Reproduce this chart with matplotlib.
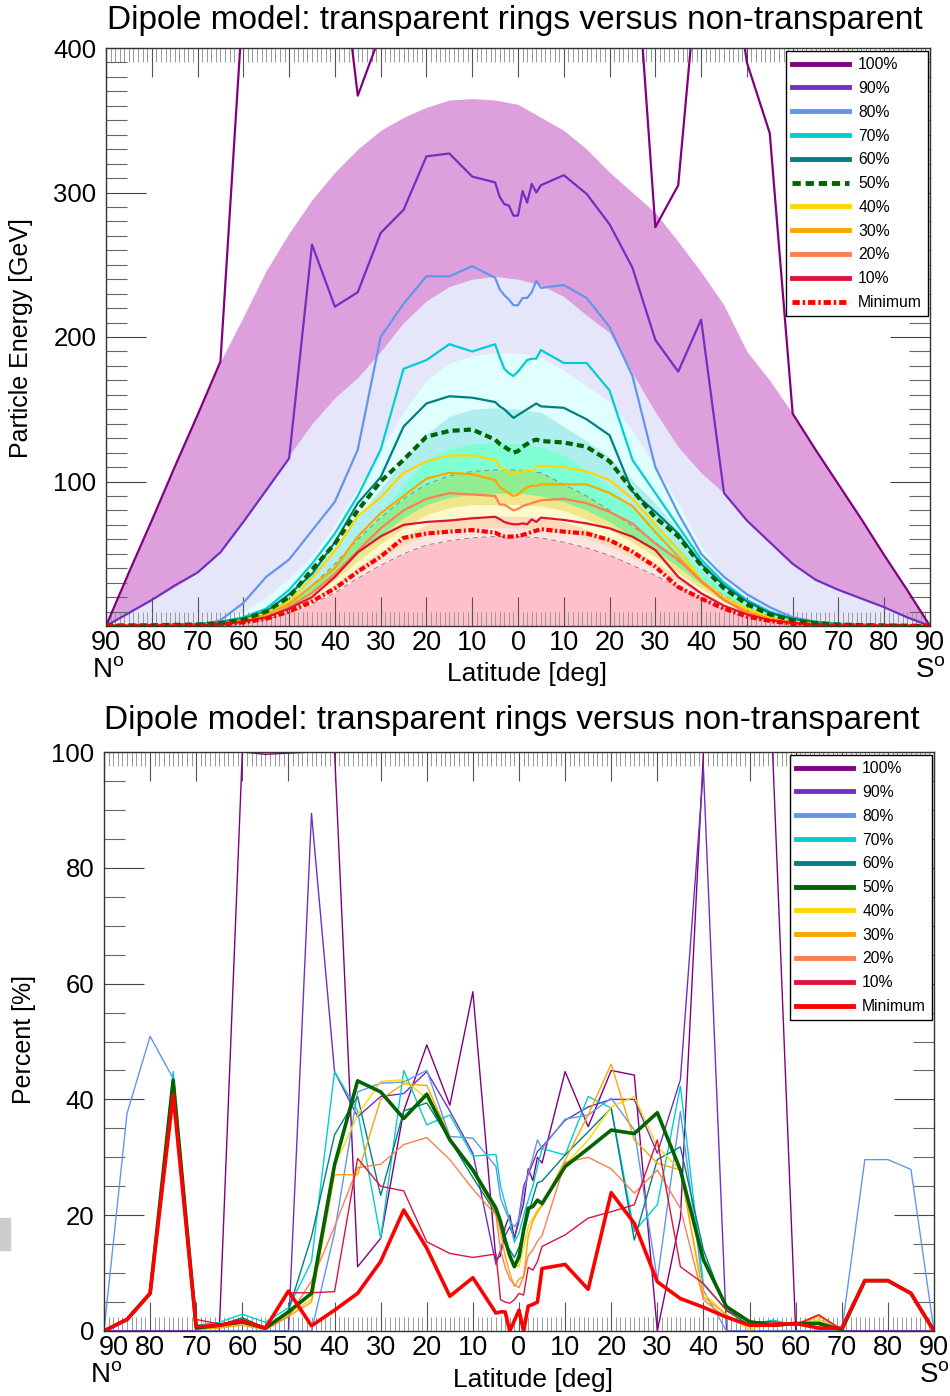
import matplotlib
matplotlib.use("Agg")
import matplotlib.pyplot as plt
from matplotlib.ticker import MultipleLocator, FixedLocator
from matplotlib.patches import Rectangle
from matplotlib.transforms import offset_copy

plt.rcParams['font.family'] = ['Liberation Sans', 'DejaVu Sans']
plt.rcParams['mathtext.fontset'] = 'custom'
plt.rcParams['mathtext.rm'] = 'Liberation Sans'

# latitude grid of the percentile curves (north negative)
lat = [-90, -85, -80, -75, -70, -65, -60, -55, -50, -45, -40, -35, -30, -25, -20, -15, -10,
       -5, -4, -3, -2, -1, 0, 1, 2, 3, 4, 5,
       10, 15, 20, 25, 30, 35, 40, 45, 50, 55, 60, 65, 70, 75, 80, 85, 90]
# coarser grid of the non-transparent bands
lat5 = list(range(-90, 91, 5))

labels = ['100%', '90%', '80%', '70%', '60%', '50%', '40%', '30%', '20%', '10%', 'Minimum']
colors = ['#800080', '#7030C0', '#6495ED', '#00CED1', '#008080', '#006400',
          '#FFD700', '#FFA500', '#FF7F50', '#DC143C', '#FF0000']

# particle energy [GeV], transparent rings
e100 = [0, 37, 73, 110, 146, 183, 435, 500, 500, 500, 500, 367, 410, 500, 500, 500, 500,
        500, 500, 500, 500, 500, 500, 500, 500, 500, 500, 500,
        500, 500, 500, 500, 276, 305, 480, 500, 390, 341, 147, 122, 98, 74, 49, 25, 0]
e90 = [0, 9, 18, 28, 37, 51, 72, 94, 116, 264, 221, 231, 272, 288, 325, 327, 311,
       307, 297, 292, 291, 284, 284, 301, 293, 306, 300, 305,
       312, 299, 278, 248, 198, 176, 212, 92, 73, 58, 43, 32, 25, 19, 13, 6, 0]
e80 = [0, 0, 0, 0, 0, 4, 16, 34, 46, 66, 86, 122, 200, 223, 242, 242, 249,
       241, 233, 229, 226, 222, 222, 227, 227, 231, 239, 234,
       236, 227, 207, 173, 110, 78, 50, 34, 22, 13, 6, 3, 1, 0.5, 0.3, 0.1, 0]
e70 = [0.3, 0.4, 0.5, 1, 1.5, 3, 6, 12, 25, 43, 64, 90, 122, 178, 184, 195, 190,
       195, 186, 178, 175, 173, 176, 180, 184, 185, 185, 191,
       182, 182, 163, 115, 92, 69, 46, 30, 18, 10, 5, 3, 1.5, 1, 0.6, 0.3, 0]
e60 = [0.3, 0.4, 0.5, 0.8, 1, 2.5, 5, 10, 22, 36, 58, 85, 103, 138, 154, 159, 158,
       155, 152, 150, 147, 144, 146, 148, 150, 152, 154, 152,
       151, 143, 132, 93, 79, 64, 43, 28, 17, 9, 5, 2.5, 1, 0.7, 0.4, 0.2, 0]
e50 = [0.3, 0.4, 0.5, 0.8, 1, 2, 4.5, 10, 20, 39, 57, 80, 100, 115, 131, 135, 136,
       129, 126, 124, 122, 120, 121, 124, 126, 128, 129, 128,
       127, 124, 114, 94, 75, 62, 42, 26, 15, 8, 4, 2, 1, 0.6, 0.4, 0.2, 0]
e40 = [0.2, 0.3, 0.4, 0.6, 0.8, 1.5, 4, 9, 17, 33, 52, 76, 89, 106, 114, 118, 118,
       115, 110, 108, 107, 105, 106, 107, 108, 107, 110, 111,
       110, 107, 101, 88, 70, 53, 32, 20, 12, 6, 3, 1.5, 0.8, 0.5, 0.3, 0.2, 0]
e30 = [0.2, 0.3, 0.4, 0.6, 0.7, 1.5, 4, 8, 15, 28, 40, 62, 78, 90, 102, 106, 105,
       101, 96, 94, 92, 90, 91, 94, 96, 97, 97, 98,
       98, 98, 92, 83, 65, 48, 31, 18, 10, 5, 2.5, 1.2, 0.6, 0.4, 0.3, 0.1, 0]
e20 = [0.1, 0.2, 0.3, 0.4, 0.5, 1, 3, 6, 13, 23, 36, 52, 67.6, 80, 88, 92, 91,
       90, 84, 84, 82, 80, 81, 83, 84, 85, 86, 87,
       88, 85, 79, 71, 57, 46, 31, 18, 9, 4.5, 2, 1, 0.5, 0.3, 0.2, 0.1, 0]
e10 = [0.1, 0.1, 0.2, 0.3, 0.4, 1, 3, 6, 12, 20, 34, 51, 62, 70, 72, 73, 74.5,
       75.6, 74, 72, 71, 70.4, 70.4, 71, 70.4, 73.8, 72, 75,
       73.4, 71, 67.6, 61.8, 52.6, 34, 22.6, 14, 8, 4, 2, 0.8, 0.4, 0.3, 0.2, 0.1, 0]
emin = [0, 0.1, 0.1, 0.2, 0.5, 1, 2.5, 5, 10, 17, 26, 37.6, 48, 61, 64, 65.3, 66.4,
        64.6, 63, 62, 61.8, 62, 62.3, 63, 64, 65, 66, 67,
        65.3, 64, 59.5, 51.4, 41, 27, 19, 12, 6.5, 3.5, 1.5, 0.6, 0.3, 0.2, 0.1, 0.05, 0]

# non-transparent bands [GeV]
b_plum = [0, 37, 73, 110, 146, 183, 214, 246, 272, 295, 314, 330, 343, 352, 359, 364, 365, 364,
          361, 352, 343, 330, 314, 300, 286, 266, 245, 222, 190, 170, 147, 122, 98, 74, 49, 25, 0]
b_lav = [0, 9, 18, 27, 37, 51, 72, 94, 118, 140, 158, 172, 190, 210, 225, 235, 240, 242,
         240, 236, 228, 215, 203, 175, 148, 124, 106, 92, 73, 58, 43, 32, 25, 19, 12.6, 6, 0]
b_lcyan = [0, 0.3, 0.6, 1.2, 2.5, 5, 10, 20, 33, 48, 70, 95, 122, 148, 170, 182, 187, 189,
           189, 186, 177, 166, 155, 135, 110, 85, 55, 35, 20, 11, 6, 3, 1.5, 1, 0.5, 0.2, 0]
b_pturq = [0, 0.2, 0.4, 0.8, 1.5, 3, 6, 12, 22, 37, 55, 75, 95, 115, 133, 145, 150, 151,
           150, 148, 138, 128, 117, 101, 85, 66, 45, 28, 17, 9, 5, 2.5, 1.2, 0.6, 0.3, 0.1, 0]
b_aqua = [0, 0.2, 0.3, 0.6, 1, 2, 4, 8, 16, 27, 42, 60, 78, 98, 115, 123, 126, 127,
          126, 124, 118, 108, 96, 82, 70, 55, 38, 24, 14, 7, 4, 2, 1, 0.5, 0.3, 0.1, 0]
b_lgreen = [0, 0.1, 0.3, 0.5, 1, 2, 4, 8, 16, 28, 43, 60, 75, 88, 98, 104, 107, 108,
            108, 106, 98, 90, 80, 69, 58, 45, 32, 21, 12, 6, 3, 1.5, 0.8, 0.4, 0.2, 0.1, 0]
b_khaki = [0, 0.1, 0.2, 0.4, 0.7, 1.5, 3.5, 7, 13, 23, 36, 50, 63, 75, 84, 89, 91, 92,
           92, 90, 86, 80, 72, 62, 52, 41, 29, 19, 11, 5.5, 2.8, 1.3, 0.6, 0.3, 0.2, 0.1, 0]
b_lemon = [0, 0.1, 0.2, 0.4, 0.6, 1.3, 3, 6, 12, 21, 32, 45, 57, 68, 77, 82, 84, 84,
           84, 83, 80, 74, 67, 58, 48, 37, 26, 17, 10, 5, 2.5, 1.2, 0.6, 0.3, 0.2, 0.1, 0]
b_peach = [0, 0.1, 0.2, 0.3, 0.5, 1.2, 2.7, 5.5, 11, 19, 29, 41, 52, 62, 70, 74, 76, 76,
           76, 75, 72, 67, 60, 52, 44, 34, 24, 15.5, 9, 4.5, 2.3, 1.1, 0.5, 0.3, 0.2, 0.1, 0]
b_misty = [0, 0.1, 0.15, 0.3, 0.5, 1.1, 2.5, 5, 10, 17, 26, 37, 47, 56, 63, 67, 68, 68,
           68, 67, 65, 61, 55, 47, 40, 31, 22, 14, 8, 4.2, 2.1, 1, 0.5, 0.3, 0.1, 0.05, 0]
b_pink = [0, 0.05, 0.1, 0.2, 0.4, 1, 2, 4.5, 9, 15, 23, 33, 42, 50, 56, 59, 61, 62,
          62, 61, 58, 54, 49, 42, 35, 27, 19, 12, 7, 3.8, 1.9, 0.9, 0.4, 0.2, 0.1, 0.05, 0]
band_colors = ['#DDA0DD', '#E6E6FA', '#E0FFFF', '#AFEEEE', '#7FFFD4', '#90EE90',
               '#F0E68C', '#FFFACD', '#FFDAB9', '#FFE4E1', '#FFC0CB']

# percent difference
p100 = [0, 0, 0, 0, 0, 0, 100, 99.6, 99.8, 100, 100, 11.1, 16, 38, 49.4, 39, 58.6,
        12.3, 13, 18, 20, 16, 19, 22, 28, 26, 30, 29,
        44.8, 35.3, 45, 44.2, 0, 19.5, 100, 100, 100.2, 100, 0, 0, 0, 0, 0, 0, 0]
p90 = [0, 0, 0, 0, 0, 0, 0, 0, 0, 89.4, 44.8, 37, 40.5, 41, 44.8, 38, 30.7,
       11.5, 14, 16.5, 18, 16, 19.7, 25, 27, 29, 31, 31.8,
       36.4, 38.7, 40, 40, 30.7, 43.4, 97, 0, 0, 0, 0, 0, 0, 0, 0, 0, 0]
p80 = [0, 37.6, 50.9, 43.6, 0, 0, 0, 0, 0, 0, 17, 41.3, 42.8, 43, 45, 33.6, 33.3,
       28.4, 22.9, 20.9, 19, 18, 19.2, 24, 27.2, 30, 33, 31.5,
       36.6, 37.3, 40.2, 34.7, 8.8, 37.9, 7, 0, 0, 0, 0, 0, 0, 29.6, 29.6, 27.9, 0]
p70 = [0, 2, 6.5, 44.8, 1, 1.5, 2.9, 1.5, 4, 12, 44.8, 38, 16, 45, 35.6, 37.3, 30.2,
       30.5, 25, 22, 19, 15.3, 16.9, 20, 22.6, 25, 28.4, 31.5,
       30.4, 40.5, 38.5, 17.2, 21.8, 42.3, 8, 3.6, 1, 1.9, 1, 1.9, 0.5, 8.7, 8.7, 6.5, 0]
p60 = [0, 2, 6.5, 43.5, 0.5, 1, 2.3, 0.5, 3.5, 16.3, 33.9, 40.5, 23.4, 38, 39.4, 33, 26.5,
       20.3, 18, 15, 14, 12.7, 14.5, 17, 20, 23, 25.6, 25.9,
       30.4, 34.4, 38.5, 15.7, 29.6, 31.8, 14, 3.5, 1, 1.5, 1, 1.5, 0.3, 8.7, 8.7, 6.5, 0]
p50 = [0, 2, 6.5, 43.3, 0.5, 1, 1.6, 0.5, 3.3, 6.5, 28.7, 43.2, 41.3, 36.7, 40.9, 33, 27.8,
       21.2, 18.9, 15.7, 13, 11.1, 12.8, 17.4, 21.2, 21.5, 22.6, 22,
       28.4, 31.5, 34.7, 34.1, 37.7, 27.8, 12.3, 4.2, 1.6, 1, 1.3, 1.3, 0.2, 8.7, 8.7, 6.5, 0]
p40 = [0, 2, 6.5, 42.5, 0.4, 0.7, 1.3, 0.3, 2.8, 5.5, 28.5, 37.3, 43.1, 43.4, 40.2, 33.4, 27.5,
       21.5, 19, 16, 13, 11.5, 11.1, 14.6, 18, 19.5, 20.9, 21.5,
       28.7, 33, 38.7, 40.5, 31.8, 27.8, 6.5, 2.8, 0.2, 1.6, 1, 1.9, 0.2, 8.7, 8.7, 6.5, 0]
p30 = [0, 2, 6.5, 42, 0.3, 0.5, 1, 0.2, 2.5, 5, 27, 27, 40, 42.7, 42.4, 33.5, 27.4,
       20.5, 17, 13, 10, 7.7, 9, 9.4, 16.3, 19, 20.5, 21.8,
       29.5, 37.3, 46.1, 33, 29, 27.8, 5.9, 2.8, 0.7, 1.3, 1, 2.5, 0.2, 8.7, 8.7, 6.5, 0]
p20 = [0, 2, 6.5, 42, 0.5, 0.8, 1.3, 0.3, 2.5, 8.6, 18, 28.2, 28.8, 32.2, 33.4, 29.6, 24.5,
       20, 14, 11, 9, 8, 7.5, 9.4, 13, 14, 15.5, 16.5,
       29.1, 30, 28, 23.8, 27.8, 21.2, 5.4, 2.2, 0.9, 1.6, 1.2, 2.8, 0.3, 8.7, 8.7, 6.5, 0]
p10 = [0, 2, 6.5, 41.5, 2, 1.2, 1.5, 0.5, 6.6, 6.6, 6.8, 29.8, 25, 24.2, 15.4, 13.4, 12.7,
       13.3, 5.4, 5, 4.8, 5.4, 6.5, 6.2, 11, 10.5, 12, 14.6,
       16.6, 19.5, 20.6, 21.8, 33, 11.1, 8.2, 3.6, 1.6, 1.6, 1, 2.8, 0.2, 8.7, 8.7, 6.5, 0]
pmin = [0, 2, 6.5, 40.8, 0.7, 1, 1.8, 0.5, 6.9, 0.9, 3.6, 6.5, 12, 20.9, 14.3, 6, 9.2,
        3.1, 3.3, 3.3, 0, 1.8, 3.6, 0, 4.3, 4.6, 5, 10.8,
        11.5, 7.2, 23.9, 18.6, 8.5, 5.6, 4.1, 2.4, 1, 1, 1.3, 0.5, 0.5, 8.7, 8.7, 6.5, 0]

energy = [e100, e90, e80, e70, e60, e50, e40, e30, e20, e10, emin]
percent = [p100, p90, p80, p70, p60, p50, p40, p30, p20, p10, pmin]
bands = [b_plum, b_lav, b_lcyan, b_pturq, b_aqua, b_lgreen, b_khaki, b_lemon, b_peach, b_misty, b_pink]

title = 'Dipole model: transparent rings versus non-transparent'
xt = list(range(-90, 91, 10))
xtl = [str(abs(v)) for v in xt]

fig = plt.figure(figsize=(9.5, 13.96), dpi=100)
ax1 = fig.add_axes([106 / 950, 1 - 626 / 1396, 824 / 950, 578 / 1396])
ax2 = fig.add_axes([104 / 950, 1 - 1331 / 1396, 830 / 950, 579 / 1396])


def style_axes(ax, ymaj, ymin_step):
    ax.set_xlim(-90, 90)
    ax.set_xticks(xt)
    ax.set_xticklabels(xtl)
    ax.xaxis.set_minor_locator(MultipleLocator(1))
    ax.yaxis.set_major_locator(FixedLocator(ymaj))
    ax.yaxis.set_minor_locator(MultipleLocator(ymin_step))
    ax.tick_params(which='both', direction='in', top=True, right=True)
    ax.tick_params(axis='x', which='major', length=21, width=0.8, color='#555555',
                   pad=3, labelsize=19.5)
    ax.tick_params(axis='x', which='minor', length=10, width=0.7, color='#999999')
    ax.tick_params(axis='y', which='major', length=29, width=0.8, color='#444444',
                   pad=7, labelsize=18.5)
    ax.tick_params(axis='y', which='minor', length=15, width=0.8, color='#666666')
    for s in ax.spines.values():
        s.set_color('#333333')
        s.set_linewidth(1)
        s.set_zorder(10)
    ax.text(0.003, -0.078, r'$\mathrm{N}^{\mathrm{o}}$', transform=ax.transAxes,
            ha='center', va='center', fontsize=20)
    ax.text(1.0, -0.078, r'$\mathrm{S}^{\mathrm{o}}$', transform=ax.transAxes,
            ha='center', va='center', fontsize=20)


def add_legend(ax):
    leg = ax.legend(loc='upper right', bbox_to_anchor=(0.998, 0.995), borderaxespad=0,
                    fontsize=11.3, fancybox=False, framealpha=1, edgecolor='black',
                    handlelength=3.6, handletextpad=0.6, labelspacing=0.56, borderpad=0.4)
    leg.get_frame().set_linewidth(1)
    leg.set_zorder(20)
    for h in leg.get_lines():
        h.set_linewidth(3.5)
    return leg


# ---- top panel ----
for b, c in zip(bands, band_colors):
    ax1.fill_between(lat5, 0, b, color=c, lw=0, zorder=1)
ax1.plot(lat5, b_lgreen, color='#888888', lw=0.7, ls=(0, (5, 4)), zorder=2)
ax1.plot(lat5, b_pink, color='#888888', lw=0.7, ls=(0, (5, 4)), zorder=2)

for y, c, l in zip(energy, colors, labels):
    if l == '50%':
        ax1.plot(lat, y, color=c, lw=3, ls=(0, (1.7, 1.0)), label=l, zorder=5)
    elif l == 'Minimum':
        ax1.plot(lat, y, color=c, lw=3, ls=(0, (1.5, 0.6, 0.5, 0.6)), label=l, zorder=5)
    else:
        ax1.plot(lat, y, color=c, lw=1.6, label=l, zorder=4)

style_axes(ax1, [100, 200, 300, 400], 10)
ax1.set_ylim(0, 400)
ax1.set_ylabel('Particle Energy [GeV]', fontsize=18)
ax1.yaxis.set_label_coords(-0.088, 0.498)
ax1.set_xlabel('Latitude [deg]', fontsize=19)
ax1.xaxis.set_label_coords(0.511, -0.062)
add_legend(ax1)

# ---- bottom panel ----
for y, c, l in zip(percent, colors, labels):
    if l in ('50%', 'Minimum'):
        ax2.plot(lat, y, color=c, lw=2.6, label=l, zorder=5)
    else:
        ax2.plot(lat, y, color=c, lw=1.0, label=l, zorder=4)

style_axes(ax2, [0, 20, 40, 60, 80, 100], 5)
ax2.set_ylim(0, 100)
ax2.set_ylabel('Percent [%]', fontsize=18)
ax2.yaxis.set_label_coords(-0.082, 0.503)
ax2.set_xlabel('Latitude [deg]', fontsize=19)
ax2.xaxis.set_label_coords(0.517, -0.064)
add_legend(ax2)

# first latitude label of the lower panel sits a little to the right
first = ax2.get_xticklabels()[0]
first.set_transform(offset_copy(first.get_transform(), fig=fig, x=7, y=0, units='points'))

fig.text(515 / 950, 1 - 20 / 1396, title, ha='center', va='center', fontsize=24)
fig.text(512 / 950, 1 - 721 / 1396, title, ha='center', va='center', fontsize=24)
fig.patches.append(Rectangle((0, 1 - 1250 / 1396), 10 / 950, 32 / 1396,
                             transform=fig.transFigure, color='#cccccc', zorder=0))

fig.savefig('out.png', dpi=100)
